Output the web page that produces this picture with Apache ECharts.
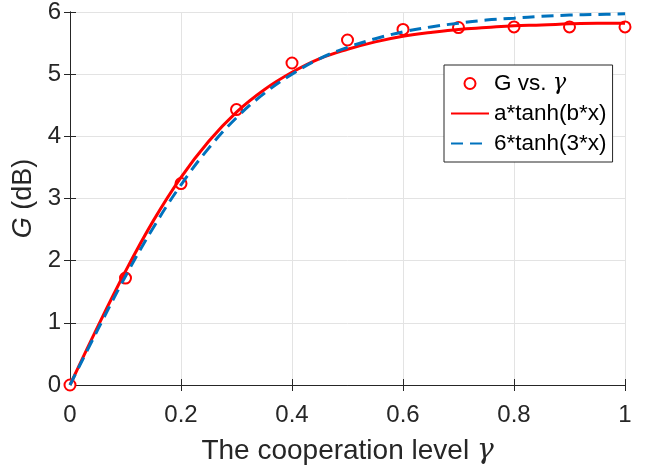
<!DOCTYPE html>
<html>
<head>
<meta charset="utf-8">
<script src="https://cdn.jsdelivr.net/npm/echarts@6/dist/echarts.min.js"></script>
<style>html,body{margin:0;padding:0;background:#fff;}#c{width:646px;height:470px;}</style>
</head>
<body>
<div id="c"></div>
<script>
// Measured data points (G vs. gamma)
var gammaX = [0, 0.1, 0.2, 0.3, 0.4, 0.5, 0.6, 0.7, 0.8, 0.9, 1.0];
var gValues = [0, 1.72, 3.24, 4.43, 5.18, 5.55, 5.72, 5.75, 5.76, 5.76, 5.76];
// Curve samples
var curveX = [0, 0.05, 0.1, 0.15, 0.2, 0.25, 0.3, 0.35, 0.4, 0.45, 0.5, 0.55, 0.6, 0.65, 0.7, 0.75, 0.8, 0.85, 0.9, 0.95, 1.0];
var fitRed = [0, 0.94, 1.83, 2.64, 3.34, 3.92, 4.39, 4.75, 5.03, 5.25, 5.40, 5.52, 5.61, 5.67, 5.72, 5.75, 5.78, 5.79, 5.81, 5.82, 5.82];
var modelBlue = [0, 0.89, 1.75, 2.53, 3.22, 3.81, 4.30, 4.69, 5.00, 5.25, 5.43, 5.57, 5.68, 5.76, 5.82, 5.87, 5.90, 5.93, 5.95, 5.96, 5.97];
var xTicks = [0, 0.2, 0.4, 0.6, 0.8, 1];
var yTicks = [0, 1, 2, 3, 4, 5, 6];
var seriesNames = ['G vs. \u03b3', 'a*tanh(b*x)', '6*tanh(3*x)'];

function pairs(xs, ys) { return xs.map(function (x, i) { return [x, ys[i]]; }); }

var FONT = '"Liberation Sans", Arial, Helvetica, sans-serif';
var SERIF = '"DejaVu Serif", "Liberation Serif", serif';
var AX = '#262626';

var chart = echarts.init(document.getElementById('c'), null, {renderer: 'canvas'});
chart.setOption({
  animation: false,
  backgroundColor: '#fff',
  grid: {left: 70, right: 21, top: 11, bottom: 78, containLabel: false},
  legend: {
    orient: 'vertical',
    left: 444, top: 65,
    padding: [7, 6, 7, 6],
    itemGap: 7,
    itemWidth: 38, itemHeight: 11,
    borderColor: AX, borderWidth: 1, backgroundColor: '#fff',
    data: [
      {name: seriesNames[0], icon: 'emptyCircle', itemStyle: {color: '#ff0000', borderColor: '#ff0000', borderWidth: 3}},
      {name: seriesNames[1], itemStyle: {opacity: 0}},
      {name: seriesNames[2], itemStyle: {opacity: 0}}
    ],
    formatter: function (n) { return n.replace('\u03b3', '{g|\u03b3}'); },
    textStyle: {
      fontFamily: FONT, fontSize: 22.5, color: '#000',
      rich: {g: {fontFamily: SERIF, fontStyle: 'italic', fontSize: 22.5, color: '#000'}}
    }
  },
  xAxis: [{
    type: 'value', min: xTicks[0], max: xTicks[xTicks.length - 1], interval: 0.2,
    name: 'The cooperation level {g|\u03b3}', nameLocation: 'middle', nameGap: 52,
    nameTextStyle: {fontFamily: FONT, fontSize: 28, color: AX,
      rich: {g: {fontFamily: SERIF, fontStyle: 'italic', fontSize: 28, color: AX}}},
    axisLine: {show: true, lineStyle: {color: AX, width: 1}},
    axisTick: {show: true, inside: true, length: 6, lineStyle: {color: AX}},
    axisLabel: {fontFamily: FONT, fontSize: 24, color: AX, margin: 18},
    splitLine: {show: true, lineStyle: {color: '#e3e3e3', width: 1}}
  }, {
    type: 'value', position: 'top', min: 0, max: 1, interval: 0.2,
    axisLine: {show: true, lineStyle: {color: AX, width: 1}},
    axisTick: {show: true, inside: true, length: 6, lineStyle: {color: AX}},
    axisLabel: {show: false}, splitLine: {show: false}
  }],
  yAxis: [{
    type: 'value', min: yTicks[0], max: yTicks[yTicks.length - 1], interval: 1,
    name: '{i|G} (dB)', nameLocation: 'middle', nameGap: 22,
    nameTextStyle: {fontFamily: FONT, fontSize: 27, color: AX,
      rich: {i: {fontFamily: FONT, fontStyle: 'italic', fontSize: 27, color: AX}}},
    axisLine: {show: true, lineStyle: {color: AX, width: 1}},
    axisTick: {show: true, inside: true, length: 6, lineStyle: {color: AX}},
    axisLabel: {fontFamily: FONT, fontSize: 24, color: AX, margin: 9},
    splitLine: {show: true, lineStyle: {color: '#e3e3e3', width: 1}}
  }, {
    type: 'value', position: 'right', min: 0, max: 6, interval: 1,
    axisLine: {show: true, lineStyle: {color: AX, width: 1}},
    axisTick: {show: true, inside: true, length: 6, lineStyle: {color: AX}},
    axisLabel: {show: false}, splitLine: {show: false}
  }],
  series: [{
    name: seriesNames[0], type: 'scatter', xAxisIndex: 0, yAxisIndex: 0,
    symbol: 'emptyCircle', symbolSize: 11,
    itemStyle: {color: '#ff0000', borderColor: '#ff0000', borderWidth: 3, opacity: 1},
    data: pairs(gammaX, gValues), z: 2
  }, {
    name: seriesNames[1], type: 'line', xAxisIndex: 0, yAxisIndex: 0,
    symbol: 'none', smooth: 0.4,
    lineStyle: {color: '#ff0000', width: 3},
    itemStyle: {color: '#ff0000'},
    data: pairs(curveX, fitRed), z: 3
  }, {
    name: seriesNames[2], type: 'line', xAxisIndex: 0, yAxisIndex: 0,
    symbol: 'none', smooth: 0.4,
    lineStyle: {color: '#0072bd', width: 3, type: [12, 7]},
    itemStyle: {color: '#0072bd'},
    data: pairs(curveX, modelBlue), z: 4
  }]
});
</script>
</body>
</html>
